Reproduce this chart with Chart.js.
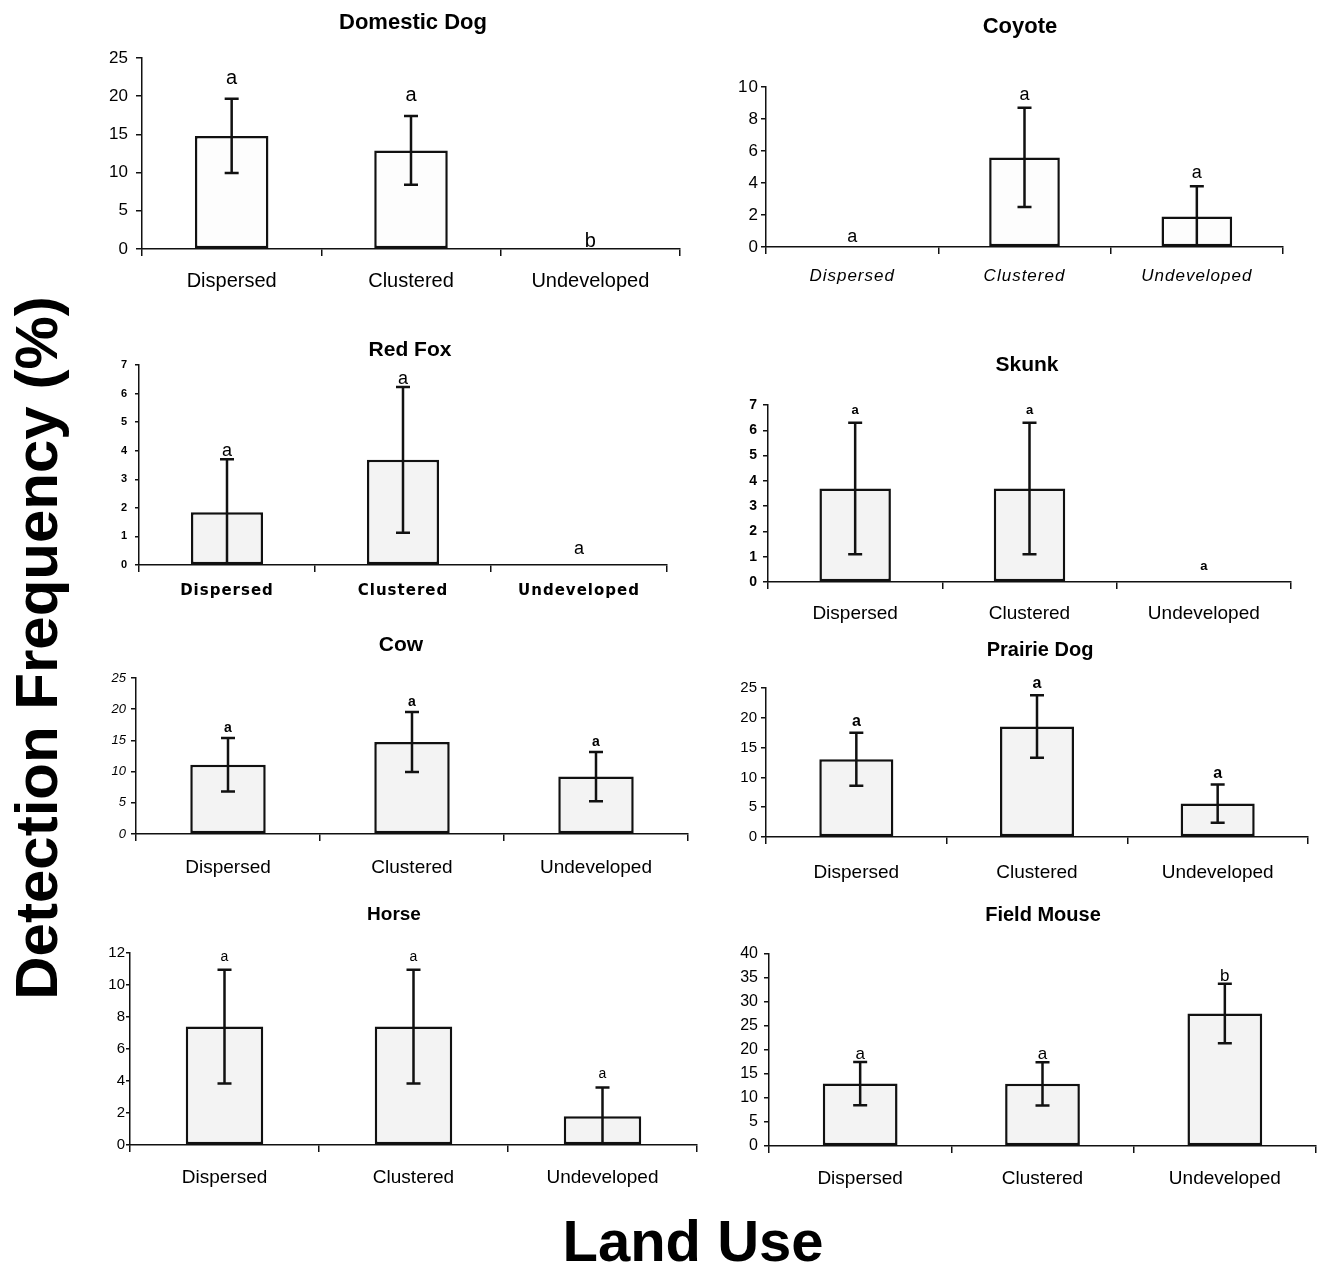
<!DOCTYPE html>
<html><head><meta charset="utf-8">
<script src="https://cdn.jsdelivr.net/npm/chart.js@4"></script>
<style>
html,body{margin:0;padding:0;background:#fff;}
body{width:1319px;height:1282px;position:relative;overflow:hidden;font-family:"Liberation Sans",Arial,sans-serif;}
.panel{position:absolute;}
.panel canvas{display:block;}
#ylab{position:absolute;left:37px;top:648px;transform:translate(-50%,-50%) rotate(-90deg);font-weight:bold;font-size:60px;font-family:"Liberation Sans",Arial,sans-serif;line-height:1;white-space:nowrap;color:#000;}
#xlab{position:absolute;left:693px;top:1241px;transform:translate(-50%,-50%);font-weight:bold;font-size:58px;font-family:"Liberation Sans",Arial,sans-serif;line-height:1;white-space:nowrap;color:#000;}
</style></head><body>
<div id="ylab">Detection Frequency (%)</div>
<div id="xlab">Land Use</div>
<script>
// ---------- data ----------
const categories = ['Dispersed', 'Clustered', 'Undeveloped'];

const dogMeans = [14.8, 12.9, 0];
const dogErrors = [4.85, 4.5, 0];
const dogLetters = ['a', 'a', 'b'];

const coyoteMeans = [0, 5.6, 1.9];
const coyoteErrors = [0, 3.1, 1.9];
const coyoteLetters = ['a', 'a', 'a'];

const foxMeans = [1.85, 3.68, 0];
const foxErrors = [1.85, 2.55, 0];
const foxLetters = ['a', 'a', 'a'];

const skunkMeans = [3.7, 3.7, 0];
const skunkErrors = [2.6, 2.6, 0];
const skunkLetters = ['a', 'a', 'a'];

const cowMeans = [11.1, 14.75, 9.2];
const cowErrors = [4.3, 4.8, 3.95];
const cowLetters = ['a', 'a', 'a'];

const prairieMeans = [13.05, 18.55, 5.6];
const prairieErrors = [4.45, 5.25, 3.2];
const prairieLetters = ['a', 'a', 'a'];

const horseMeans = [7.4, 7.4, 1.8];
const horseErrors = [3.55, 3.55, 1.8];
const horseLetters = ['a', 'a', 'a'];

const mouseMeans = [13.0, 12.95, 27.6];
const mouseErrors = [4.5, 4.5, 6.2];
const mouseLetters = ['a', 'a', 'b'];

const titles = ['Domestic Dog', 'Coyote', 'Red Fox', 'Skunk', 'Cow', 'Prairie Dog', 'Horse', 'Field Mouse'];
const yMaxes = [25, 10, 7, 7, 25, 25, 12, 40];
const ySteps = [5, 2, 1, 1, 5, 5, 2, 5];

// ---------- layout / styles ----------
const F = '"Liberation Sans", Arial, sans-serif';
const D = '"DejaVu Sans", Verdana, sans-serif';
const layouts = [
  {L:142,R:680,T:58,B:249, tx:413,ty:23, tf:'bold 22px '+F, tick:{size:17,family:F}, tickPad:8, ytl:6,
   cat:{size:20,family:F}, labOff:31, lf:'20px '+F, gap:15, zgap:2, fill:'#fdfdfd'},
  {L:766,R:1283,T:87,B:247, tx:1020,ty:27, tf:'bold 22px '+F, tick:{size:17,family:F}, tickPad:2, ytl:5,
   cat:{size:17,family:F,style:'italic'}, labOff:28, lf:'18px '+F, gap:8, zgap:5, fill:'#fdfdfd', spacing:'1px'},
  {L:139,R:667,T:365,B:565, tx:410,ty:350, tf:'bold 21px '+F, tick:{size:11,family:F,weight:'bold'}, tickPad:7, ytl:4,
   cat:{size:15,family:D,weight:'bold'}, labOff:25, lf:'18px '+F, gap:3, zgap:11, fill:'#f3f3f3', spacing:'1px'},
  {L:768,R:1291,T:405,B:582, tx:1027,ty:365, tf:'bold 21px '+F, tick:{size:14,family:F,weight:'bold'}, tickPad:6, ytl:5,
   cat:{size:19,family:F}, labOff:31, lf:'bold 13px '+F, gap:9, zgap:12, fill:'#f3f3f3'},
  {L:136,R:688,T:678,B:834, tx:401,ty:645, tf:'bold 21px '+F, tick:{size:13,family:F,style:'italic'}, tickPad:5, ytl:5,
   cat:{size:19,family:F}, labOff:33, lf:'bold 14px '+F, gap:6, zgap:6, fill:'#f3f3f3'},
  {L:766,R:1308,T:688,B:837, tx:1040,ty:650, tf:'bold 20px '+F, tick:{size:15,family:F}, tickPad:4, ytl:5,
   cat:{size:19,family:F}, labOff:35, lf:'bold 16px '+F, gap:7, zgap:7, fill:'#f3f3f3'},
  {L:130,R:697,T:953,B:1145, tx:394,ty:915, tf:'bold 19px '+F, tick:{size:15,family:F}, tickPad:1, ytl:4,
   cat:{size:19,family:F}, labOff:32, lf:'14px '+F, gap:9, zgap:9, fill:'#f3f3f3'},
  {L:769,R:1316,T:954,B:1146, tx:1043,ty:915, tf:'bold 20px '+F, tick:{size:16,family:F}, tickPad:6, ytl:5,
   cat:{size:19,family:F}, labOff:32, lf:'17px '+F, gap:3, zgap:3, fill:'#f3f3f3'}
];
const series = [
  [dogMeans, dogErrors, dogLetters],
  [coyoteMeans, coyoteErrors, coyoteLetters],
  [foxMeans, foxErrors, foxLetters],
  [skunkMeans, skunkErrors, skunkLetters],
  [cowMeans, cowErrors, cowLetters],
  [prairieMeans, prairieErrors, prairieLetters],
  [horseMeans, horseErrors, horseLetters],
  [mouseMeans, mouseErrors, mouseLetters]
];

Chart.defaults.color = '#000';
Chart.defaults.font.family = F;

const annot = {
  id: 'annot',
  beforeDraw(chart, args, o) { chart.ctx.letterSpacing = o.spacing || '0px'; },
  afterDatasetsDraw(chart, args, o) {
    const ctx = chart.ctx, ys = chart.scales.y, meta = chart.getDatasetMeta(0);
    ctx.save();
    ctx.letterSpacing = '0px';
    ctx.strokeStyle = '#111';
    ctx.lineWidth = 2.5;
    ctx.lineCap = 'butt';
    o.means.forEach((m, i) => {
      const e = o.errors[i];
      const x = meta.data[i].x;
      const yt = ys.getPixelForValue(m + e);
      if (e > 0) {
        const yb = ys.getPixelForValue(Math.max(0, m - e));
        ctx.beginPath();
        ctx.moveTo(x, yt); ctx.lineTo(x, yb);
        ctx.moveTo(x - 7, yt); ctx.lineTo(x + 7, yt);
        if (m - e > 0.01) { ctx.moveTo(x - 7, yb); ctx.lineTo(x + 7, yb); }
        ctx.stroke();
      }
      ctx.font = o.letterFont;
      ctx.fillStyle = '#000';
      ctx.textAlign = 'center';
      ctx.textBaseline = 'alphabetic';
      ctx.fillText(o.letters[i], x, yt - ((m + e) > 0 ? o.gap : o.zeroGap));
    });
    ctx.font = o.titleFont;
    ctx.textAlign = 'center';
    ctx.textBaseline = 'middle';
    ctx.fillText(o.title, o.titleX, o.titleY);
    ctx.restore();
  }
};

const padL = 75, padT = 75, padR = 12, padB = 62;
layouts.forEach((g, k) => {
  const [means, errors, letters] = series[k];
  const div = document.createElement('div');
  div.className = 'panel';
  const left = g.L - padL, top = g.T - padT;
  const w = g.R - g.L + padL + padR, h = g.B - g.T + padT + padB;
  div.style.left = left + 'px'; div.style.top = top + 'px';
  div.style.width = w + 'px'; div.style.height = h + 'px';
  const cv = document.createElement('canvas');
  cv.width = w; cv.height = h;
  cv.style.width = w + 'px'; cv.style.height = h + 'px';
  div.appendChild(cv);
  document.body.appendChild(div);
  const xTickLen = 7;
  const xPad = Math.max(0, g.labOff - xTickLen - 0.55 * g.cat.size);
  new Chart(cv, {
    type: 'bar',
    data: {
      labels: categories,
      datasets: [{
        data: means,
        backgroundColor: g.fill,
        borderColor: '#111',
        borderWidth: 2.5,
        borderSkipped: false,
        barPercentage: 0.41,
        categoryPercentage: 1
      }]
    },
    options: {
      responsive: false,
      animation: false,
      devicePixelRatio: 1,
      events: [],
      layout: { padding: { top: padT, right: padR, left: 0, bottom: 0 } },
      plugins: {
        legend: { display: false },
        tooltip: { enabled: false },
        annot: {
          means: means, errors: errors, letters: letters,
          title: titles[k], titleFont: g.tf,
          titleX: g.tx - left, titleY: g.ty - top,
          letterFont: g.lf, gap: g.gap, zeroGap: g.zgap,
          spacing: g.spacing
        }
      },
      scales: {
        x: {
          afterFit: s => { s.height = padB; },
          grid: { offset: true, drawOnChartArea: false, tickLength: xTickLen, color: '#111', lineWidth: 1.5 },
          border: { display: true, color: '#111', width: 1.5 },
          ticks: { font: g.cat, color: '#000', padding: xPad, maxRotation: 0, autoSkip: false }
        },
        y: {
          min: 0, max: yMaxes[k],
          afterFit: s => { s.width = padL; },
          grid: { drawOnChartArea: false, tickLength: g.ytl, color: '#111', lineWidth: 1.5 },
          border: { display: true, color: '#111', width: 1.5 },
          ticks: { stepSize: ySteps[k], font: g.tick, color: '#000', padding: g.tickPad }
        }
      }
    },
    plugins: [annot]
  });
});
</script>
</body></html>
